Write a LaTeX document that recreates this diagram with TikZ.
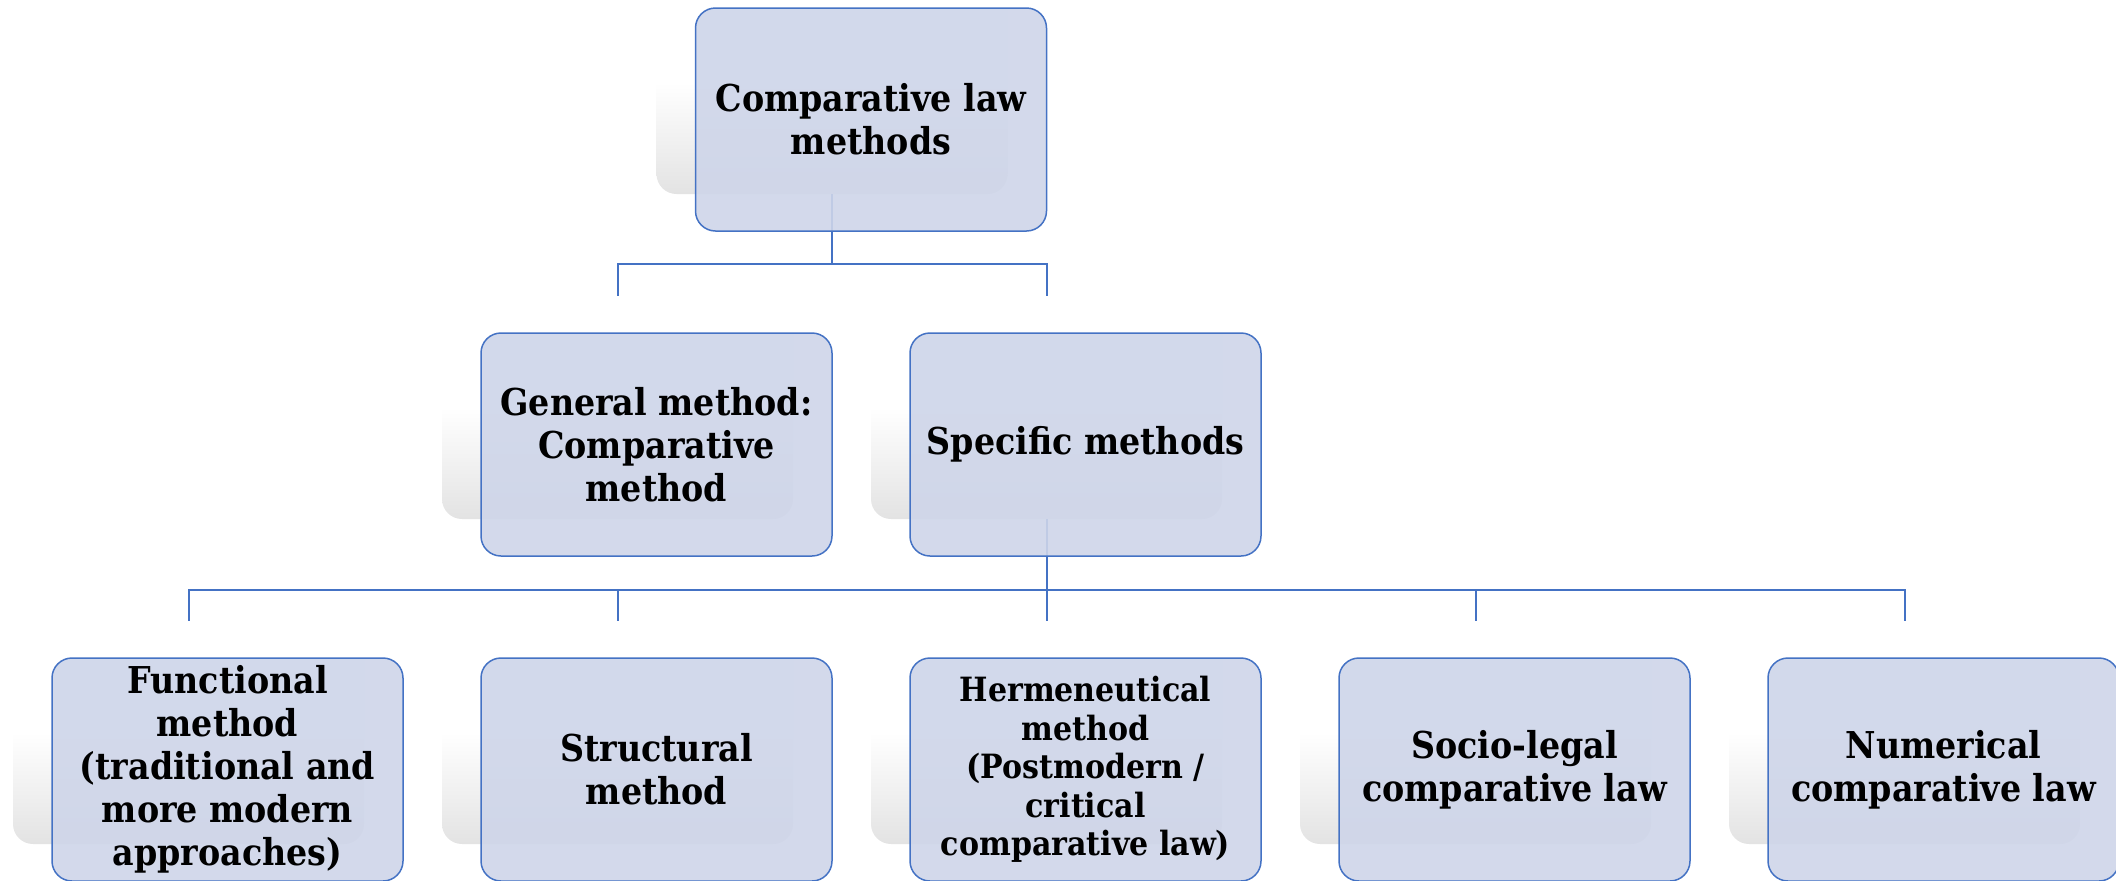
\documentclass[tikz,border=0pt]{standalone}
\usepackage{fontspec}
\setmainfont{DejaVu Serif Condensed}
\usetikzlibrary{calc}
\definecolor{boxblue}{RGB}{68,114,196}
\definecolor{boxfill}{RGB}{206,213,233}
\tikzset{
    shadowbox/.style = {rectangle, rounded corners=10pt,
        minimum width=175.5pt, minimum height=111.5pt, inner sep=0pt,
        top color=white, bottom color=black!11, middle color=white},
    block/.style = {draw=boxblue, line width=0.75pt, rectangle, rounded corners=10pt,
        fill=boxfill, fill opacity=0.9, text opacity=1,
        minimum width=175.5pt, minimum height=111.5pt, inner sep=2pt, align=center,
        font=\fontsize{18.5}{21.5}\selectfont\bfseries},
    small/.style = {font=\fontsize{16.7}{19.3}\selectfont\bfseries},
    link/.style = {draw=boxblue, line width=1pt}
}

\begin{document}
\begin{tikzpicture}[x=0.5pt, y=-0.5pt]
    \useasboundingbox (0,0) rectangle (2116,880);
        % shadows, the connectors run between them
        \node [shadowbox] (top) at (832,82.5) {};
        \node [shadowbox, below of=top, xshift=-107.25pt, node distance=162.5pt] (gen) {};
        \node [shadowbox, right of=gen, node distance=214.5pt] (spec) {};
        \node [shadowbox, below of=gen, xshift=-214.5pt, node distance=162.5pt] (sub1) {};
        \foreach \a [evaluate=\a as \prev using int(\a-1)] in {2,3,...,5}{
            \node [shadowbox, right of=sub\prev, node distance=214.5pt] (sub\a) {};
        }
        \draw [link] (top.south) -- ++(0,70) coordinate (split1);
        \foreach \n in {gen,spec}{
            \draw [link] (split1) -| (\n.north);
        }
        \draw [link] (spec.south) -- ++(0,71) coordinate (split2);
        \foreach \a in {1,2,...,5}{
            \draw [link] (split2) -| (sub\a.north);
        }
        % boxes
        \node [block] (topbox) at ($(top)+(39,37)$) {Comparative law\\methods};
        \node [block] (genbox) at ($(gen)+(39,37)$) {General method:\\Comparative\\method};
        \node [block] (specbox) at ($(spec)+(39,37)$) {Specific methods};
        \node [block] (subbox1) at ($(sub1)+(39,37)$) {Functional\\method\\(traditional and\\more modern\\approaches)};
        \node [block] (subbox2) at ($(sub2)+(39,37)$) {Structural\\method};
        \node [block, small] (subbox3) at ($(sub3)+(39,37)$) {Hermeneutical\\method\\(Postmodern /\\critical\\comparative law)};
        \node [block] (subbox4) at ($(sub4)+(39,37)$) {Socio-legal\\comparative law};
        \node [block] (subbox5) at ($(sub5)+(39,37)$) {Numerical\\comparative law};
\end{tikzpicture}
\end{document}
